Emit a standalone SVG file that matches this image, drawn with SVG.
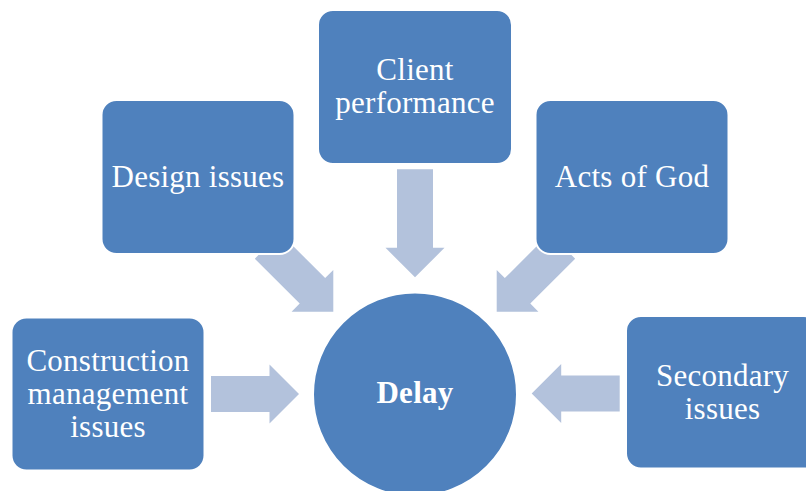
<svg xmlns="http://www.w3.org/2000/svg" width="806" height="491" viewBox="0 0 806 491">
<style>
.box{fill:#4F81BD;stroke:#FFFFFF;stroke-width:2}
.arr{fill:#B3C2DC}
.t{font-family:"Liberation Serif","Times New Roman",serif;font-size:31px;fill:#FFFFFF;text-anchor:middle;letter-spacing:0.25px}
.b{font-weight:bold}
</style>
<defs>
<polygon id="a88" points="-88,-18 -29.5,-18 -29.5,-29.5 0,0 -29.5,29.5 -29.5,18 -88,18"/>
<polygon id="a93" points="-93,-18 -29.5,-18 -29.5,-29.5 0,0 -29.5,29.5 -29.5,18 -93,18"/>
<polygon id="a108" points="-108,-18 -29.5,-18 -29.5,-29.5 0,0 -29.5,29.5 -29.5,18 -108,18"/>
</defs>
<g id="connectors">
<use href="#a108" class="arr" transform="translate(415,277.3) rotate(90)"/>
<use href="#a93" class="arr" transform="translate(333.3,311.7) rotate(45)"/>
<use href="#a93" class="arr" transform="translate(496.7,311.7) rotate(135)"/>
<use href="#a88" class="arr" transform="translate(299,394)"/>
<use href="#a88" class="arr" transform="translate(531.7,393.5) rotate(180)"/>
</g>
<g id="client">
<rect class="box" x="318" y="10" width="194" height="154" rx="15"/>
<text class="t" x="415" y="80">Client</text>
<text class="t" x="415" y="112.5">performance</text>
</g>
<g id="design">
<rect class="box" x="101.5" y="100" width="193" height="154" rx="15"/>
<text class="t" x="198" y="187">Design issues</text>
</g>
<g id="acts">
<rect class="box" x="535.5" y="100" width="193" height="154" rx="15"/>
<text class="t" x="632" y="187">Acts of God</text>
</g>
<g id="construction">
<rect class="box" x="11.5" y="317.5" width="193" height="153" rx="15"/>
<text class="t" x="108" y="370.7">Construction</text>
<text class="t" x="108" y="403.5">management</text>
<text class="t" x="108" y="436.7">issues</text>
</g>
<g id="secondary">
<rect class="box" x="626" y="316" width="193" height="152.5" rx="15"/>
<text class="t" x="722.5" y="386">Secondary</text>
<text class="t" x="722.5" y="418.5">issues</text>
</g>
<g id="delay">
<circle class="box" cx="415" cy="394.4" r="102"/>
<text class="t b" x="415" y="403.3">Delay</text>
</g>
</svg>
